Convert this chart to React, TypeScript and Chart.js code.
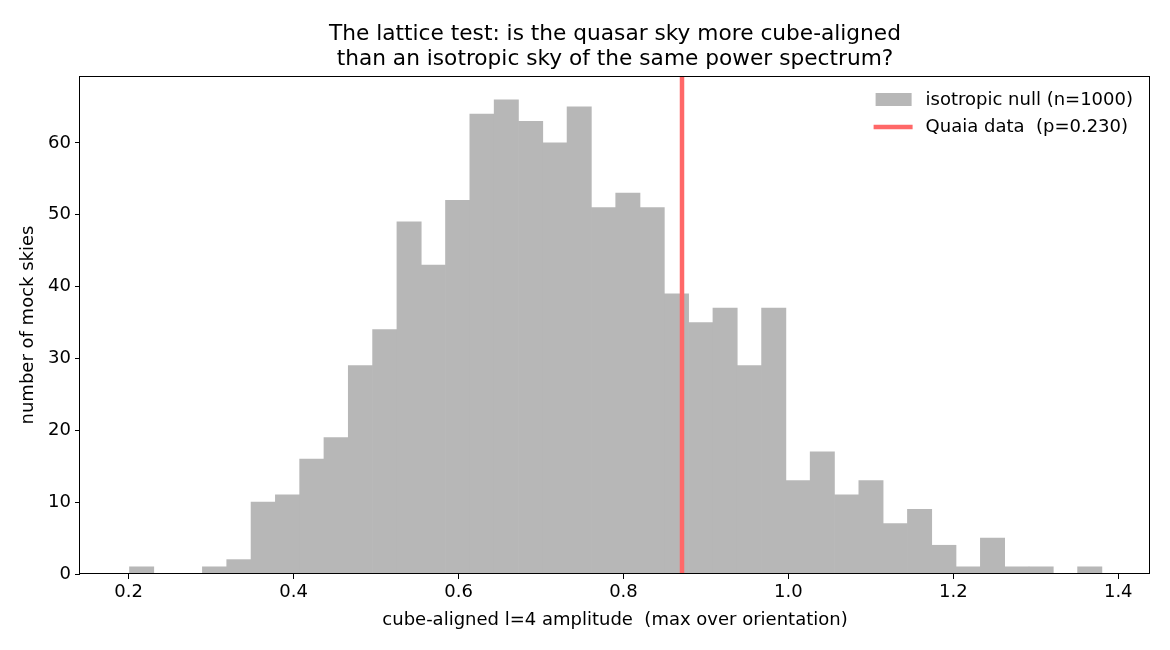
import React, { useEffect, useRef } from 'react';
import { Chart, registerables, ChartConfiguration, Plugin } from 'chart.js';
Chart.register(...registerables);

const FONT = "'DejaVu Sans', sans-serif";

// histogram bin edges (41 edges -> 40 bins)
const binEdges = [
  0.2010, 0.2305, 0.2600, 0.2894, 0.3189, 0.3484, 0.3779, 0.4074, 0.4368, 0.4663,
  0.4958, 0.5253, 0.5548, 0.5842, 0.6137, 0.6432, 0.6727, 0.7022, 0.7316, 0.7611,
  0.7906, 0.8201, 0.8496, 0.8790, 0.9085, 0.9380, 0.9675, 0.9970, 1.0264, 1.0559,
  1.0854, 1.1149, 1.1444, 1.1738, 1.2033, 1.2328, 1.2623, 1.2918, 1.3212, 1.3507,
  1.3802,
];

// counts of mock skies per bin
const nullCounts = [
  1, 0, 0, 1, 2, 10, 11, 16, 19, 29,
  34, 49, 43, 52, 64, 66, 63, 60, 65, 51,
  53, 51, 39, 35, 37, 29, 37, 13, 17, 11,
  13, 7, 9, 4, 1, 5, 1, 1, 0, 1,
];

const quaiaValue = 0.871;

const xTicks = [0.2, 0.4, 0.6, 0.8, 1.0, 1.2, 1.4];
const yTicks = [0, 10, 20, 30, 40, 50, 60];

const xMin = 0.141;
const xMax = 1.4385;
const yMax = 69.3;

const titleLines = [
  'The lattice test: is the quasar sky more cube-aligned',
  'than an isotropic sky of the same power spectrum?',
];
const nullLabel = 'isotropic null (n=1000)';
const dataLabel = 'Quaia data  (p=0.230)';

const BAR_COLOR = '#b7b7b7';
const LINE_COLOR = '#ff6868';

// axes frame on all four sides (matplotlib spines)
const framePlugin: Plugin = {
  id: 'frame',
  afterDatasetsDraw(chart) {
    const { ctx, chartArea } = chart;
    ctx.save();
    ctx.strokeStyle = '#000';
    ctx.lineWidth = 1;
    const l = Math.round(chartArea.left) - 0.5;
    const t = Math.round(chartArea.top) + 0.5;
    const r = Math.round(chartArea.right) - 0.5;
    const b = Math.round(chartArea.bottom) - 0.5;
    ctx.strokeRect(l, t, r - l, b - t);
    ctx.restore();
  },
};

// title centred over the axes, like matplotlib does it
const axesTitlePlugin: Plugin = {
  id: 'axesTitle',
  afterDraw(chart) {
    const { ctx, chartArea } = chart;
    ctx.save();
    ctx.font = `21.7px ${FONT}`;
    ctx.fillStyle = '#000';
    ctx.textAlign = 'center';
    ctx.textBaseline = 'alphabetic';
    const cx = (chartArea.left + chartArea.right) / 2;
    const lastBaseline = chartArea.top - 11.5;
    titleLines.forEach((line, i) => {
      ctx.fillText(line, cx, lastBaseline - (titleLines.length - 1 - i) * 24.5);
    });
    ctx.restore();
  },
};

// legend in the upper right corner, no frame
const legendPlugin: Plugin = {
  id: 'innerLegend',
  afterDraw(chart) {
    const { ctx, chartArea } = chart;
    ctx.save();
    ctx.font = `18px ${FONT}`;
    const w = Math.max(ctx.measureText(nullLabel).width, ctx.measureText(dataLabel).width);
    const textX = chartArea.right - 17 - w;
    const handleR = textX - 14;
    const handleL = handleR - 38;
    const y1 = chartArea.top + 24;
    const y2 = chartArea.top + 51;
    ctx.fillStyle = BAR_COLOR;
    ctx.fillRect(handleL + 2, y1 - 7, 36, 13);
    ctx.strokeStyle = LINE_COLOR;
    ctx.lineWidth = 4.5;
    ctx.beginPath();
    ctx.moveTo(handleL, y2);
    ctx.lineTo(handleR + 1, y2);
    ctx.stroke();
    ctx.fillStyle = '#000';
    ctx.textBaseline = 'middle';
    ctx.textAlign = 'left';
    ctx.fillText(nullLabel, textX, y1);
    ctx.fillText(dataLabel, textX, y2);
    ctx.restore();
  },
};

const LatticeHistogram: React.FC = () => {
  const chartRef = useRef<HTMLCanvasElement>(null);
  const chartInstanceRef = useRef<Chart | null>(null);

  useEffect(() => {
    if (!chartRef.current) return;
    if (chartInstanceRef.current) chartInstanceRef.current.destroy();
    const ctx = chartRef.current.getContext('2d');
    if (!ctx) return;

    const bars = nullCounts.map((c, i) => ({ x: (binEdges[i] + binEdges[i + 1]) / 2, y: c }));

    const config: ChartConfiguration = {
      type: 'bar',
      data: {
        datasets: [
          {
            type: 'line',
            label: dataLabel,
            data: [{ x: quaiaValue, y: 0 }, { x: quaiaValue, y: yMax }],
            borderColor: LINE_COLOR,
            borderWidth: 4.5,
            pointRadius: 0,
            fill: false,
            order: 0,
          } as any,
          {
            type: 'bar',
            label: nullLabel,
            data: bars,
            backgroundColor: BAR_COLOR,
            borderWidth: 0,
            barPercentage: 1,
            categoryPercentage: 1,
            grouped: false,
            order: 1,
          } as any,
        ],
      },
      options: {
        animation: false,
        responsive: true,
        maintainAspectRatio: false,
        layout: { padding: { left: 0, right: 20, top: 76, bottom: 0 } },
        scales: {
          x: {
            type: 'linear',
            min: xMin,
            max: xMax,
            offset: false,
            afterBuildTicks: (scale) => { scale.ticks = xTicks.map(v => ({ value: v })); },
            afterFit: (scale) => { scale.height = 76; },
            grid: { display: true, drawOnChartArea: false, drawTicks: true, tickLength: 5, tickColor: '#000', offset: false },
            border: { display: false },
            ticks: {
              color: '#000',
              font: { family: FONT, size: 18 },
              padding: 3,
              maxRotation: 0,
              autoSkip: false,
              callback: (v) => Number(v).toFixed(1),
            },
            title: {
              display: true,
              text: 'cube-aligned l=4 amplitude  (max over orientation)',
              color: '#000',
              font: { family: FONT, size: 18, lineHeight: 1.2 },
              padding: { top: 0, bottom: 19.2 },
            },
          },
          y: {
            type: 'linear',
            min: 0,
            max: yMax,
            afterBuildTicks: (scale) => { scale.ticks = yTicks.map(v => ({ value: v })); },
            afterFit: (scale) => { scale.width = 80; },
            grid: { display: true, drawOnChartArea: false, drawTicks: true, tickLength: 5, tickColor: '#000' },
            border: { display: false },
            ticks: {
              color: '#000',
              font: { family: FONT, size: 18 },
              padding: 4,
              autoSkip: false,
            },
            title: {
              display: true,
              text: 'number of mock skies',
              color: '#000',
              font: { family: FONT, size: 18, lineHeight: 1.2 },
              padding: { top: 17.2, bottom: 0 },
            },
          },
        },
        plugins: {
          legend: { display: false },
          tooltip: { enabled: false },
          title: { display: false },
        },
      },
      plugins: [framePlugin, axesTitlePlugin, legendPlugin],
    };

    chartInstanceRef.current = new Chart(ctx, config);
    return () => {
      if (chartInstanceRef.current) {
        chartInstanceRef.current.destroy();
        chartInstanceRef.current = null;
      }
    };
  }, []);

  return (
    <div style={{ position: 'absolute', left: 0, top: 0, width: 1170, height: 650, background: '#fff' }}>
      <canvas ref={chartRef}></canvas>
    </div>
  );
};

export default function App() {
  return <LatticeHistogram />;
}
